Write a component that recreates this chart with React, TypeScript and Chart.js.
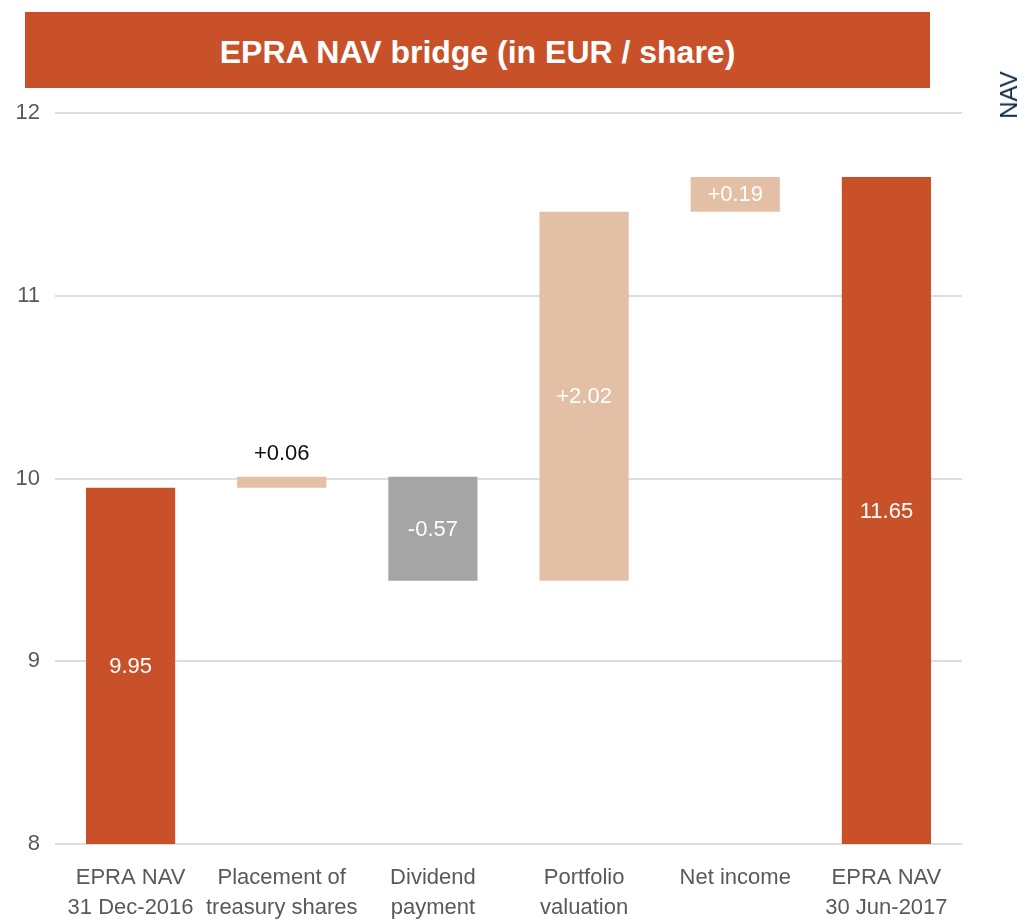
import React, { useEffect, useRef } from "react";
import { Chart, registerables } from "chart.js";

Chart.register(...registerables);

const categories: string[][] = [
  ["EPRA NAV", "31 Dec-2016"],
  ["Placement of", "treasury shares"],
  ["Dividend", "payment"],
  ["Portfolio", "valuation"],
  ["Net income"],
  ["EPRA NAV", "30 Jun-2017"],
];
const changes = [9.95, 0.06, -0.57, 2.02, 0.19, 11.65];
const kinds = ["total", "increase", "decrease", "increase", "increase", "total"];
const valueLabels = ["9.95", "+0.06", "-0.57", "+2.02", "+0.19", "11.65"];
const yTickValues = [8, 9, 10, 11, 12];

const Y_MIN = 8;
const Y_MAX = 12;
const NARROW = "'Liberation Sans Narrow', 'Arial Narrow', 'Liberation Sans', sans-serif";
const COLORS: Record<string, string> = {
  total: "#C9512A",
  increase: "#E3BFA5",
  decrease: "#A5A5A5",
};

function buildRanges(): [number, number][] {
  let running = 0;
  return changes.map((c, i) => {
    if (kinds[i] === "total") {
      running = c;
      return [Y_MIN, c];
    }
    const start = running;
    running = +(running + c).toFixed(2);
    return [start, running];
  });
}

const valueLabelPlugin = {
  id: "valueLabels",
  afterDatasetsDraw(chart: any) {
    const ctx = chart.ctx;
    const meta = chart.getDatasetMeta(0);
    ctx.save();
    ctx.font = `22px ${NARROW}`;
    ctx.textAlign = "center";
    ctx.textBaseline = "middle";
    meta.data.forEach((bar: any, i: number) => {
      const top = Math.min(bar.y, bar.base);
      const bottom = Math.max(bar.y, bar.base);
      const h = bottom - top;
      if (h < 30) {
        ctx.fillStyle = "#111111";
        ctx.fillText(valueLabels[i], bar.x, top - 23);
      } else {
        ctx.fillStyle = "#FFFFFF";
        ctx.fillText(valueLabels[i], bar.x, (top + bottom) / 2 + 1);
      }
    });
    ctx.restore();
  },
};

export default function App() {
  const canvasRef = useRef<HTMLCanvasElement | null>(null);

  useEffect(() => {
    if (!canvasRef.current) return;
    const ranges = buildRanges();
    const chart = new Chart(canvasRef.current, {
      type: "bar",
      data: {
        labels: categories as any,
        datasets: [
          {
            data: ranges as any,
            backgroundColor: kinds.map((k) => COLORS[k]),
            borderWidth: 0,
            borderSkipped: false,
            barPercentage: 0.59,
            categoryPercentage: 1,
          },
        ],
      },
      options: {
        animation: false,
        responsive: false,
        maintainAspectRatio: false,
        layout: { padding: { left: 0, right: 61, top: 113, bottom: 0 } },
        plugins: {
          legend: { display: false },
          tooltip: { enabled: false },
          title: { display: false },
        },
        scales: {
          x: {
            grid: { display: false, drawTicks: false },
            border: { display: false },
            ticks: {
              color: "#595959",
              font: { family: NARROW, size: 22, lineHeight: 1.36 },
              padding: 19,
              maxRotation: 0,
              autoSkip: false,
            },
            afterFit(scale: any) {
              scale.height = 75;
            },
          },
          y: {
            min: Y_MIN,
            max: Y_MAX,
            afterBuildTicks(scale: any) {
              scale.ticks = yTickValues.map((v) => ({ value: v }));
            },
            grid: { color: "#DEDEDE", lineWidth: 2, drawTicks: false },
            border: { display: false },
            ticks: {
              color: "#595959",
              font: { family: NARROW, size: 22 },
              padding: 15,
            },
            afterFit(scale: any) {
              scale.width = 55;
            },
          },
        },
      },
      plugins: [valueLabelPlugin],
    });
    return () => chart.destroy();
  }, []);

  return (
    <div
      style={{
        position: "absolute",
        left: 0,
        top: 0,
        width: 1023,
        height: 919,
        overflow: "hidden",
        background: "#FFFFFF",
      }}
    >
      <canvas
        ref={canvasRef}
        width={1023}
        height={919}
        style={{ position: "absolute", left: 0, top: 0, width: 1023, height: 919 }}
      />
      <div
        style={{
          position: "absolute",
          left: 25,
          top: 12,
          width: 905,
          height: 76,
          boxSizing: "border-box",
          paddingTop: 5,
          background: "#C9512A",
          color: "#FFFFFF",
          display: "flex",
          alignItems: "center",
          justifyContent: "center",
          fontFamily: NARROW,
          fontWeight: "bold",
          fontSize: 32,
        }}
      >
        EPRA NAV bridge (in EUR / share)
      </div>
      <div
        style={{
          position: "absolute",
          left: 1009,
          top: 95,
          transform: "translate(-50%, -50%) rotate(-90deg)",
          color: "#0E2A45",
          fontFamily: "'Liberation Sans', Arial, sans-serif",
          fontSize: 24,
          whiteSpace: "nowrap",
          lineHeight: 1,
        }}
      >
        NAV
      </div>
    </div>
  );
}
